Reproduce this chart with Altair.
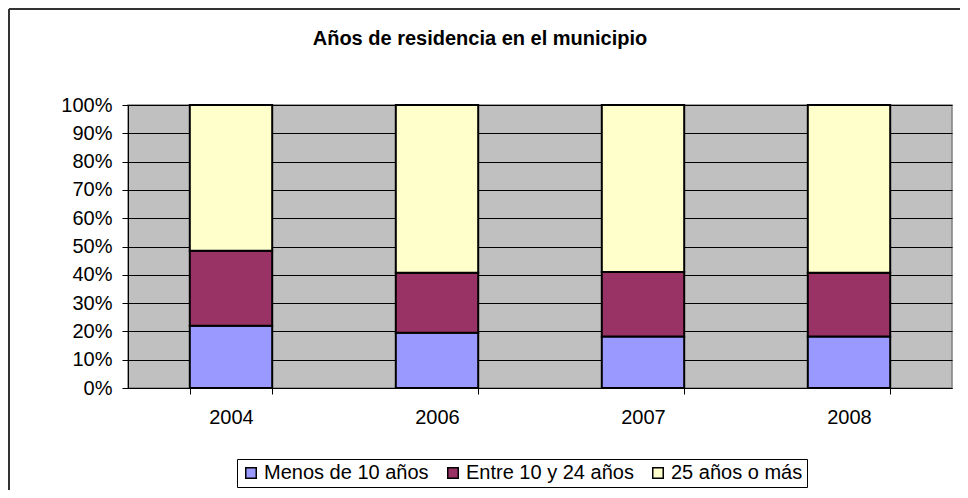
import altair as alt
import pandas as pd

years = ["2004", "2006", "2007", "2008"]
series = ["Menos de 10 años", "Entre 10 y 24 años", "25 años o más"]
menos10 = [22.0, 19.5, 18.2, 18.2]
entre10_24 = [26.5, 21.2, 22.8, 22.5]
mas25 = [51.5, 59.3, 59.0, 59.3]
colors = ["#9999FF", "#993366", "#FFFFCC"]
title_text = "Años de residencia en el municipio"

rows = []
for i, y in enumerate(years):
    for k, (s, vals) in enumerate(zip(series, [menos10, entre10_24, mas25])):
        rows.append({"Año": y, "Serie": s, "Valor": vals[i], "k": k})
df = pd.DataFrame(rows)

FONT = "Liberation Sans"
FS = 20
W, H = 824, 283

bars = alt.Chart(df).mark_bar(stroke="black", strokeWidth=2).encode(
    x=alt.X("Año:N", sort=years, title=None,
            scale=alt.Scale(paddingInner=0.6, paddingOuter=0.3),
            axis=alt.Axis(labelAngle=0, tickBand="extent", tickSize=6,
                          labelPadding=13, domainColor="#000000",
                          tickColor="#000000", labelFontSize=FS,
                          labelFont=FONT, labelColor="#000000", grid=False)),
    y=alt.Y("Valor:Q", stack="zero", title=None,
            scale=alt.Scale(domain=[0, 100], nice=False),
            axis=alt.Axis(values=list(range(0, 101, 10)),
                          labelExpr="datum.value + '%'", tickSize=6,
                          labelPadding=10, domainColor="#000000",
                          tickColor="#000000", gridColor="#000000",
                          gridWidth=1, gridOpacity=1, labelFontSize=FS,
                          labelFont=FONT, labelColor="#000000")),
    color=alt.Color("Serie:N", sort=series,
                    scale=alt.Scale(domain=series, range=colors),
                    legend=alt.Legend(title=None, orient="none",
                                      legendX=109, legendY=354,
                                      direction="horizontal",
                                      symbolType="square", symbolSize=110,
                                      symbolStrokeColor="black",
                                      symbolStrokeWidth=1.5,
                                      symbolOpacity=1,
                                      labelFontSize=FS, labelFont=FONT,
                                      labelColor="#000000", labelOffset=3,
                                      labelLimit=400,
                                      columnPadding=14, padding=4,
                                      strokeColor="black", fillColor="white")),
    order=alt.Order("k:Q"),
)

one = alt.Data(values=[{"a": 1}])
top_border = alt.Chart(one).mark_rule(color="#333333", strokeWidth=2).encode(
    x=alt.value(-119), x2=alt.value(W + 8), y=alt.value(-96))
left_border = alt.Chart(one).mark_rule(color="#333333", strokeWidth=2).encode(
    x=alt.value(-119), y=alt.value(-96), y2=alt.value(H + 102))

chart = alt.layer(bars, top_border, left_border).properties(
    width=W, height=H,
    autosize=alt.AutoSizeParams(type="none"),
    padding={"left": 120, "top": 97, "right": 8, "bottom": 102},
    title=alt.Title(title_text, fontSize=FS, font=FONT, fontWeight="bold",
                    color="#000000", offset=-41, dx=-60, anchor="middle",
                    frame="group"),
).configure_view(fill="#C0C0C0", stroke="#808080", strokeWidth=1.5)

chart.save("out.html", embed_options={"renderer": "svg", "actions": False})
